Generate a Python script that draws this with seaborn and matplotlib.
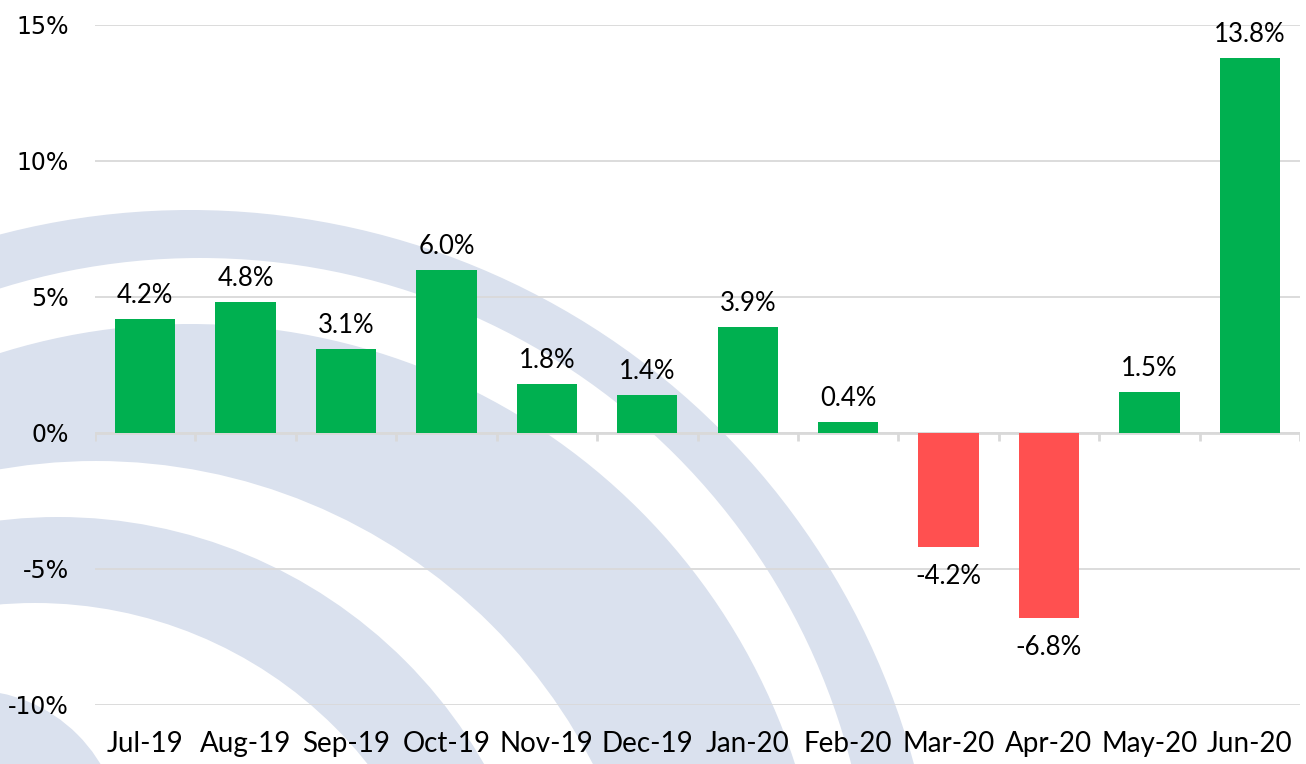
import numpy as np
import pandas as pd
import matplotlib
matplotlib.use("Agg")
import matplotlib.pyplot as plt
from matplotlib.patches import Circle
import seaborn as sns

# ==========================================================
# DATA
# ==========================================================

months = ["Jul-19", "Aug-19", "Sep-19", "Oct-19", "Nov-19", "Dec-19",
          "Jan-20", "Feb-20", "Mar-20", "Apr-20", "May-20", "Jun-20"]
growth = [4.2, 4.8, 3.1, 6.0, 1.8, 1.4, 3.9, 0.4, -4.2, -6.8, 1.5, 13.8]
y_ticks = [-10, -5, 0, 5, 10, 15]
y_tick_labels = ["-10%", "-5%", "0%", "5%", "10%", "15%"]

GREEN = "#00B050"
RED = "#FF5050"
GRID = "#D9D9D9"
WATERMARK = "#DAE1EE"

df = pd.DataFrame({"month": months, "growth": growth})
bar_colors = [GREEN if v >= 0 else RED for v in growth]

# ==========================================================
# FIGURE
# ==========================================================

sns.set_theme(style="white")
plt.rcParams["font.family"] = ["Lato", "DejaVu Sans"]
plt.rcParams["text.color"] = "black"

fig = plt.figure(figsize=(13.06, 7.64), dpi=100)

# background watermark (pixel coordinates, y down)
bg = fig.add_axes([0, 0, 1, 1], zorder=0)
bg.set_xlim(0, 1306)
bg.set_ylim(764, 0)
bg.axis("off")

# (center x, center y, radius, fill) painted from outside in
rings = [
    (190, 960, 750, WATERMARK),
    (200, 930, 672, "white"),
    (190, 960, 636, WATERMARK),
    (96, 1020, 559, "white"),
    (58, 1008, 491, WATERMARK),
    (35, 1027, 424, "white"),
    (-30, 842, 152, WATERMARK),
]
for cx, cy, r, c in rings:
    bg.add_patch(Circle((cx, cy), r, facecolor=c, edgecolor="none"))

# main chart
ax = fig.add_axes([95 / 1306, 59 / 764, 1205 / 1306, 680 / 764], zorder=1)
ax.set_facecolor("none")

sns.barplot(data=df, x="month", y="growth", hue="month",
            palette=bar_colors, legend=False, width=0.6,
            saturation=1, linewidth=0, ax=ax)

ax.set_ylim(-10, 15)
ax.set_xlim(-0.5, len(months) - 0.5)
ax.set_yticks(y_ticks)
ax.set_yticklabels(y_tick_labels, fontsize=17, family=["DejaVu Sans"])
ax.set_xlabel("")
ax.set_ylabel("")

ax.yaxis.grid(True, color=GRID, linewidth=1.3)
ax.set_axisbelow(True)
for s in ax.spines.values():
    s.set_visible(False)

ax.tick_params(axis="y", length=0, pad=19, colors="black")
ax.tick_params(axis="x", length=0, pad=19, labelsize=20, colors="black")

# zero line with category ticks
ax.axhline(0, color=GRID, linewidth=2, zorder=0.5)
bounds = np.arange(len(months) + 1) - 0.5
ax.vlines(bounds, -0.3, 0, color=GRID, linewidth=2, zorder=0.5)

# data labels
for container, v in zip(ax.containers, growth):
    pad = 8 if v >= 0 else 12
    ax.bar_label(container, fmt="%.1f%%", padding=pad, fontsize=18.5,
                 color="black")

fig.savefig("out.png", dpi=100)
